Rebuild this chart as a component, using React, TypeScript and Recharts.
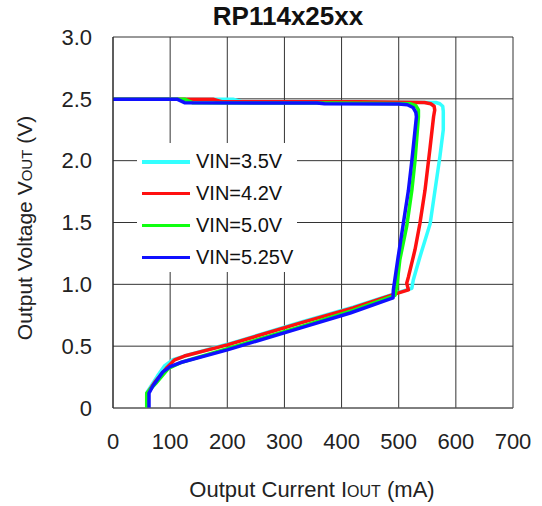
import React from "react";
import {
  LineChart,
  Line,
  XAxis,
  YAxis,
  CartesianGrid,
  Legend,
} from "recharts";

document.body.style.margin = "0";

const FONT = "'Liberation Sans', Arial, sans-serif";

const xTicks = [0, 100, 200, 300, 400, 500, 600, 700];
const yTicks = [0, 0.5, 1.0, 1.5, 2.0, 2.5, 3.0];

// output current (mA) / output voltage (V)
const cur35 = [0, 210, 225, 450, 565, 572, 577, 578, 578, 572, 563.5, 555, 537, 525.5, 523, 500, 420, 330, 200, 125, 105, 90, 78, 60, 60];
const volt35 = [2.497, 2.497, 2.477, 2.475, 2.47, 2.46, 2.44, 2.4, 2.25, 2.03, 1.76, 1.49, 1.22, 1.035, 0.968, 0.935, 0.815, 0.695, 0.515, 0.42, 0.39, 0.34, 0.26, 0.13, 0];

const cur42 = [0, 175, 190, 430, 545, 556, 562, 563, 561, 555, 546, 537, 528.5, 517, 514, 517, 497, 420, 330, 200, 125, 108, 95, 75, 60, 60];
const volt42 = [2.497, 2.497, 2.477, 2.477, 2.47, 2.46, 2.44, 2.41, 2.355, 2.11, 1.76, 1.49, 1.28, 1.06, 1.01, 0.955, 0.927, 0.81, 0.69, 0.51, 0.42, 0.39, 0.33, 0.22, 0.12, 0];

const cur50 = [0, 125, 140, 380, 520, 530, 534.5, 534.5, 528.5, 523, 514, 502, 496.5, 493.5, 420, 330, 200, 120, 97, 75, 59, 59];
const volt50 = [2.497, 2.497, 2.468, 2.466, 2.46, 2.445, 2.41, 2.355, 2.0, 1.76, 1.47, 1.2, 0.98, 0.91, 0.79, 0.66, 0.48, 0.37, 0.32, 0.2, 0.12, 0];

const cur525 = [0, 112, 126, 357, 370, 500, 515, 525, 530, 531, 523, 517, 508, 499, 490.6, 490, 415, 330, 200, 120, 100, 87, 70, 63, 63];
const volt525 = [2.497, 2.497, 2.468, 2.466, 2.46, 2.458, 2.452, 2.43, 2.39, 2.355, 2.0, 1.76, 1.49, 1.22, 0.954, 0.89, 0.768, 0.65, 0.47, 0.37, 0.335, 0.29, 0.18, 0.12, 0];

const zip = (xs: number[], ys: number[]) => xs.map((x, i) => ({ x, y: ys[i] }));

const series = [
  { name: "VIN=3.5V", color: "#33ffff", data: zip(cur35, volt35) },
  { name: "VIN=4.2V", color: "#ff1010", data: zip(cur42, volt42) },
  { name: "VIN=5.0V", color: "#10ff10", data: zip(cur50, volt50) },
  { name: "VIN=5.25V", color: "#1010ff", data: zip(cur525, volt525) },
];

const LegendBox = () => (
  <div
    style={{
      background: "#fff",
      width: 160,
      height: 129,
      boxSizing: "border-box",
      paddingTop: 3,
      fontFamily: FONT,
    }}
  >
    {series.map((s) => (
      <div
        key={s.name}
        style={{ display: "flex", alignItems: "center", height: 31.8 }}
      >
        <div
          style={{
            width: 48,
            height: 3.5,
            background: s.color,
            marginLeft: 5,
            marginRight: 6,
          }}
        />
        <span style={{ fontSize: 20, color: "#111" }}>{s.name}</span>
      </div>
    ))}
  </div>
);

const App: React.FC = () => {
  return (
    <div style={{ position: "relative", width: 542, height: 506, fontFamily: FONT }}>
      <div
        style={{
          position: "absolute",
          left: 0,
          width: 576,
          top: 1,
          textAlign: "center",
          fontWeight: "bold",
          fontSize: 26,
          color: "#111",
        }}
      >
        RP114x25xx
      </div>
      <LineChart
        width={542}
        height={506}
        margin={{ top: 37, right: 29, left: 0, bottom: 0 }}
      >
        <CartesianGrid stroke="#333" strokeWidth={1} />
        <XAxis
          type="number"
          dataKey="x"
          domain={[0, 700]}
          ticks={xTicks}
          height={98}
          tickLine={false}
          tickSize={0}
          tickMargin={25}
          stroke="#666"
          tick={{ fill: "#222", fontSize: 22, fontFamily: FONT }}
          allowDataOverflow
          label={{
            content: () => (
              <text x={312} y={497} textAnchor="middle" fill="#222" fontSize={22} fontFamily={FONT}>
                Output Current I<tspan fontSize={16}>OUT</tspan> (mA)
              </text>
            ),
          }}
        />
        <YAxis
          type="number"
          domain={[0, 3]}
          ticks={yTicks}
          width={113}
          tickLine={false}
          tickSize={0}
          tickMargin={21}
          stroke="#222"
          tick={{ fill: "#222", fontSize: 22, fontFamily: FONT }}
          tickFormatter={(v: number) => (v === 0 ? "0" : v.toFixed(1))}
          allowDataOverflow
          label={{
            content: () => (
              <text
                x={32}
                y={228}
                textAnchor="middle"
                fill="#222"
                fontSize={21}
                fontFamily={FONT}
                transform="rotate(-90 32 228)"
              >
                Output Voltage V<tspan fontSize={15}>OUT</tspan> (V)
              </text>
            ),
          }}
        />
        <Legend
          layout="vertical"
          align="center"
          verticalAlign="middle"
          wrapperStyle={{ left: 137, top: 143, width: 160 }}
          content={() => <LegendBox />}
        />
        {series.map((s) => (
          <Line
            key={s.name}
            name={s.name}
            data={s.data}
            dataKey="y"
            type="linear"
            stroke={s.color}
            strokeWidth={3.5}
            strokeLinejoin="round"
            dot={false}
            activeDot={false}
            isAnimationActive={false}
          />
        ))}
      </LineChart>
    </div>
  );
};

export default App;
